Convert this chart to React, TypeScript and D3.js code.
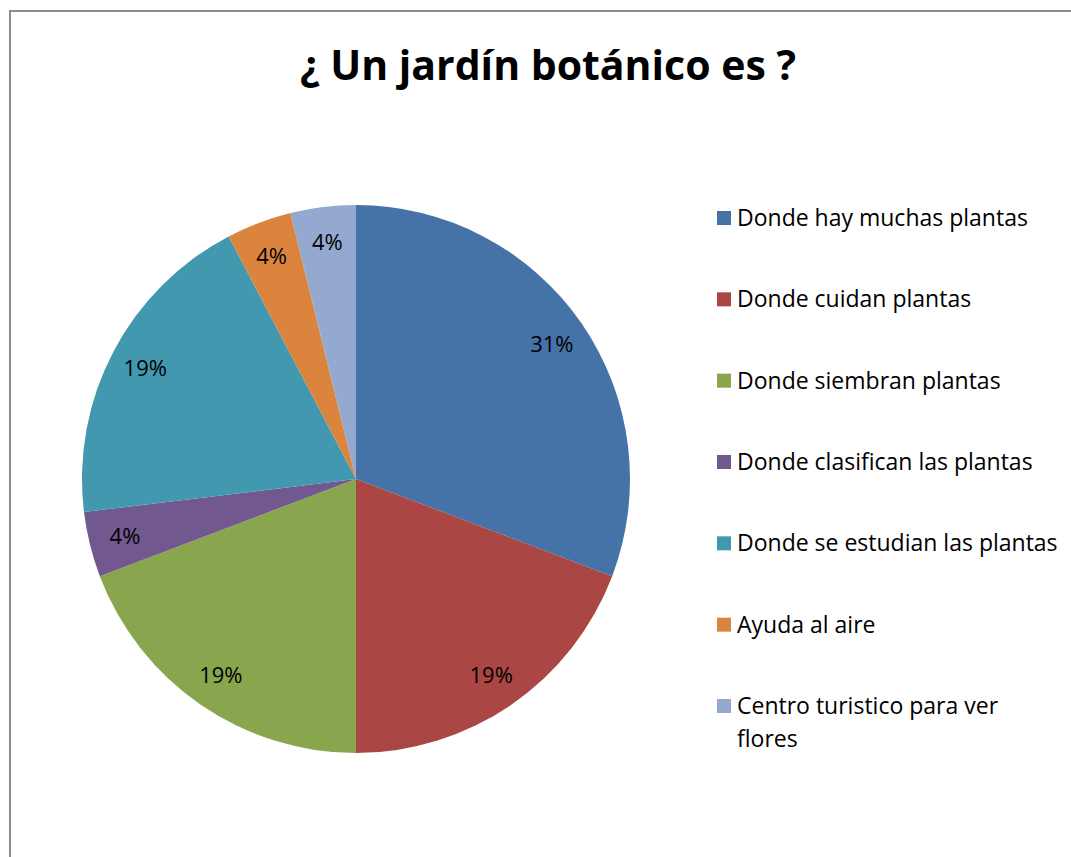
import React, { useMemo } from 'react';
import * as d3 from 'd3';

// ─── 数据 ───
const categories = [
  'Donde hay muchas plantas',
  'Donde cuidan plantas',
  'Donde siembran plantas',
  'Donde clasifican las plantas',
  'Donde se estudian las plantas',
  'Ayuda al aire',
  'Centro turistico para ver flores',
];
const counts = [8, 5, 5, 1, 5, 1, 1];
const colors = ['#4572A7', '#AA4643', '#89A54E', '#71588F', '#4198AF', '#DB843D', '#93A9CF'];
// legend wraps the last entry onto two lines
const legendLines = [
  ['Donde hay muchas plantas'],
  ['Donde cuidan plantas'],
  ['Donde siembran plantas'],
  ['Donde clasifican las plantas'],
  ['Donde se estudian las plantas'],
  ['Ayuda al aire'],
  ['Centro turistico para ver', 'flores'],
];

const W = 1071;
const H = 857;
const FONT = "'Open Sans', sans-serif";

export default function App() {
  const cx = 356;
  const cy = 479;
  const R = 274;

  const arcs = useMemo(
    () => d3.pie<number>().sort(null).value(d => d)(counts),
    []
  );
  const total = d3.sum(counts);
  const arcGen = d3.arc<d3.PieArcDatum<number>>().innerRadius(0).outerRadius(R);
  const labelArc = d3.arc<d3.PieArcDatum<number>>().innerRadius(238).outerRadius(238);

  const legendY = d3.scaleLinear().domain([0, categories.length - 1]).range([218, 706]);

  return (
    <svg width={W} height={H} style={{ position: 'absolute', left: 0, top: 0, background: '#fff' }}>
      {/* 边框 */}
      <path d={`M10,${H} L10,11 L${W},11`} fill="none" stroke="#8c8c8c" strokeWidth={2} />

      <text x={548} y={80} textAnchor="middle" fontFamily={FONT} fontWeight="bold"
        fontSize={41} fill="#000">¿ Un jardín botánico es ?</text>

      <g transform={`translate(${cx},${cy})`}>
        {arcs.map((a, i) => (
          <path key={i} d={arcGen(a) ?? ''} fill={colors[i]} />
        ))}
        {arcs.map((a, i) => {
          const [x, y] = labelArc.centroid(a);
          return (
            <text key={i} x={x} y={y} dy="0.35em" textAnchor="middle" fontFamily={FONT}
              fontSize={22} fill="#000">
              {`${Math.round((a.data / total) * 100)}%`}
            </text>
          );
        })}
      </g>

      <g>
        {categories.map((c, i) => (
          <g key={c} transform={`translate(717,${legendY(i)})`}>
            <rect x={0} y={-7} width={14} height={14} fill={colors[i]} />
            {legendLines[i].map((ln, j) => (
              <text key={j} x={20} y={j * 33} dy="0.35em" fontFamily={FONT} fontSize={23} fill="#000">
                {ln}
              </text>
            ))}
          </g>
        ))}
      </g>
    </svg>
  );
}
